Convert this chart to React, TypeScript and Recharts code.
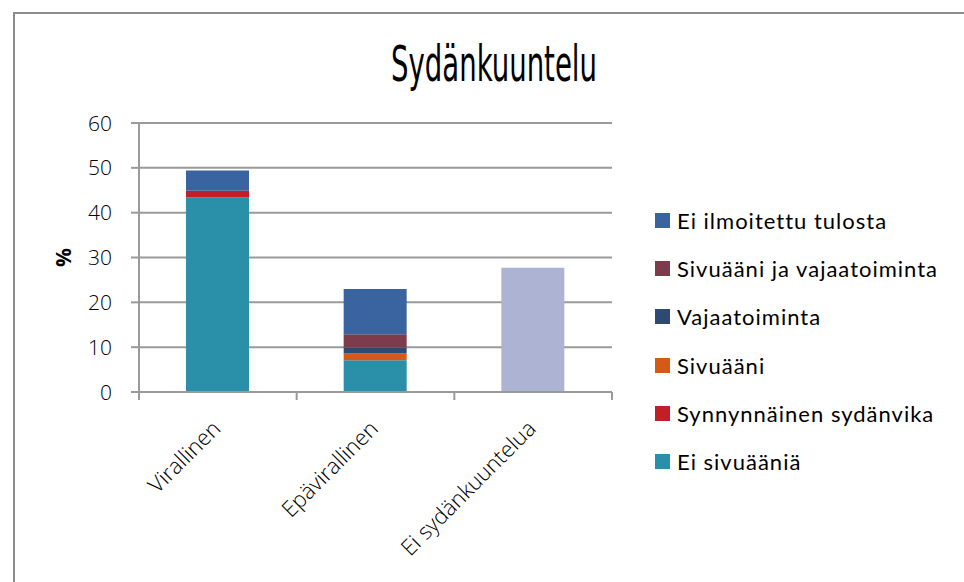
import { BarChart, Bar, XAxis, YAxis, CartesianGrid } from 'recharts';

// categories and values (percent)
const categories = ['Virallinen', 'Epävirallinen', 'Ei sydänkuuntelua'];
const eiSivuaania = [43.4, 7.1, 0];
const synnynnainen = [1.5, 0, 0];
const sivuaani = [0, 1.5, 0];
const vajaatoiminta = [0, 1.3, 0];
const sivuaaniJaVajaatoiminta = [0, 3.0, 0];
const eiIlmoitettu = [4.5, 10.1, 0];
const eiKuuntelua = [0, 0, 27.7];
const yTicks = [0, 10, 20, 30, 40, 50, 60];

const series = [
  { key: 'eiSivuaania', name: 'Ei sivuääniä', color: '#2A8FA9', values: eiSivuaania },
  { key: 'synnynnainen', name: 'Synnynnäinen sydänvika', color: '#C21E28', values: synnynnainen },
  { key: 'sivuaani', name: 'Sivuääni', color: '#D65A17', values: sivuaani },
  { key: 'vajaatoiminta', name: 'Vajaatoiminta', color: '#2D4A73', values: vajaatoiminta },
  { key: 'sivuaaniJaVajaatoiminta', name: 'Sivuääni ja vajaatoiminta', color: '#7D3B4B', values: sivuaaniJaVajaatoiminta },
  { key: 'eiIlmoitettu', name: 'Ei ilmoitettu tulosta', color: '#3A64A0', values: eiIlmoitettu },
];
const noListening = { key: 'eiKuuntelua', name: 'Ei sydänkuuntelua', color: '#ADB3D3', values: eiKuuntelua };

const data = categories.map((name, i) => {
  const row: Record<string, string | number> = { name };
  [...series, noListening].forEach(s => { row[s.key] = s.values[i]; });
  return row;
});

const W = 964;
const H = 582;
const margin = { top: 123, right: 352, bottom: 60, left: 13 };
const Y_AXIS_W = 126;
const BAND = (W - margin.left - margin.right - Y_AXIS_W) / categories.length;
const AXIS = '#9a9a9a';
const TICK_FONT = "'Open Sans', 'DejaVu Sans', sans-serif";
const TICK_COLOR = '#000';

function CategoryTick(props: any) {
  const { x, y, payload, index } = props;
  const half = BAND / 2;
  const ax = x + 4;
  const ay = y + 30;
  return (
    <g>
      <line x1={x - half} x2={x - half} y1={y - 8} y2={y} stroke={AXIS} strokeWidth={2} />
      {index === categories.length - 1 && (
        <line x1={x + half} x2={x + half} y1={y - 8} y2={y} stroke={AXIS} strokeWidth={2} />
      )}
      <text
        x={ax}
        y={ay}
        textAnchor="end"
        transform={`rotate(-45 ${ax} ${ay})`}
        fill={TICK_COLOR}
        fontSize={22}
        fontFamily={TICK_FONT}
        fontWeight={300}
      >
        {payload.value}
      </text>
    </g>
  );
}

function ValueTick(props: any) {
  const { x, y, payload } = props;
  return (
    <text
      x={x}
      y={y}
      dy="0.36em"
      textAnchor="end"
      fill={TICK_COLOR}
      fontSize={21}
      fontFamily={TICK_FONT}
      fontWeight={300}
    >
      {payload.value}
    </text>
  );
}

function PercentLabel(props: any) {
  const { viewBox } = props;
  const cx = viewBox.x + 50;
  const cy = viewBox.y + viewBox.height / 2;
  return (
    <text
      x={cx}
      y={cy}
      textAnchor="middle"
      dominantBaseline="central"
      transform={`rotate(-90 ${cx} ${cy})`}
      fontSize={21}
      fontWeight="bold"
      fontFamily={TICK_FONT}
      fill="#000"
    >
      %
    </text>
  );
}

export default function App() {
  const legendItems = [...series].reverse();
  return (
    <div style={{ position: 'fixed', left: 0, top: 0, width: W, height: H, background: '#fff', overflow: 'hidden' }}>
      <div
        style={{
          position: 'absolute',
          left: 13,
          top: 12,
          width: W,
          height: H,
          borderLeft: '2px solid #8c8c8c',
          borderTop: '2px solid #8c8c8c',
        }}
      />
      <svg width={W} height={110} style={{ position: 'absolute', left: 0, top: 0 }}>
        <text
          x={494}
          y={81}
          textAnchor="middle"
          fontSize={50}
          textLength={206}
          lengthAdjust="spacingAndGlyphs"
          fontFamily="'Liberation Sans Narrow', 'DejaVu Sans Condensed', sans-serif"
          fill="#000"
        >
          Sydänkuuntelu
        </text>
      </svg>
      <div style={{ position: 'absolute', left: 0, top: 0 }}>
        <BarChart width={W} height={H} data={data} margin={margin} barSize={63}>
          <CartesianGrid vertical={false} stroke={AXIS} strokeWidth={2} />
          <XAxis
            dataKey="name"
            interval={0}
            height={130}
            tickLine={false}
            tickSize={8}
            tickMargin={0}
            axisLine={{ stroke: AXIS, strokeWidth: 2 }}
            tick={<CategoryTick />}
          />
          <YAxis
            width={Y_AXIS_W}
            domain={[0, 60]}
            ticks={yTicks}
            interval={0}
            tickSize={8}
            tickMargin={19}
            axisLine={{ stroke: AXIS, strokeWidth: 2 }}
            tickLine={{ stroke: AXIS, strokeWidth: 2 }}
            tick={<ValueTick />}
            label={<PercentLabel />}
          />
          {series.map(s => (
            <Bar key={s.key} dataKey={s.key} name={s.name} stackId="a" fill={s.color} isAnimationActive={false} />
          ))}
          <Bar
            dataKey={noListening.key}
            name={noListening.name}
            stackId="a"
            fill={noListening.color}
            legendType="none"
            isAnimationActive={false}
          />
        </BarChart>
      </div>
      <div style={{ position: 'absolute', left: 655, top: 196, fontFamily: "Lato, 'Open Sans', sans-serif" }}>
        {legendItems.map(item => (
          <div key={item.key} style={{ display: 'flex', alignItems: 'center', height: 48.3 }}>
            <div style={{ width: 15, height: 15, background: item.color, marginRight: 7 }} />
            <span style={{ fontSize: 22, letterSpacing: 1, color: '#000', whiteSpace: 'nowrap' }}>{item.name}</span>
          </div>
        ))}
      </div>
    </div>
  );
}
